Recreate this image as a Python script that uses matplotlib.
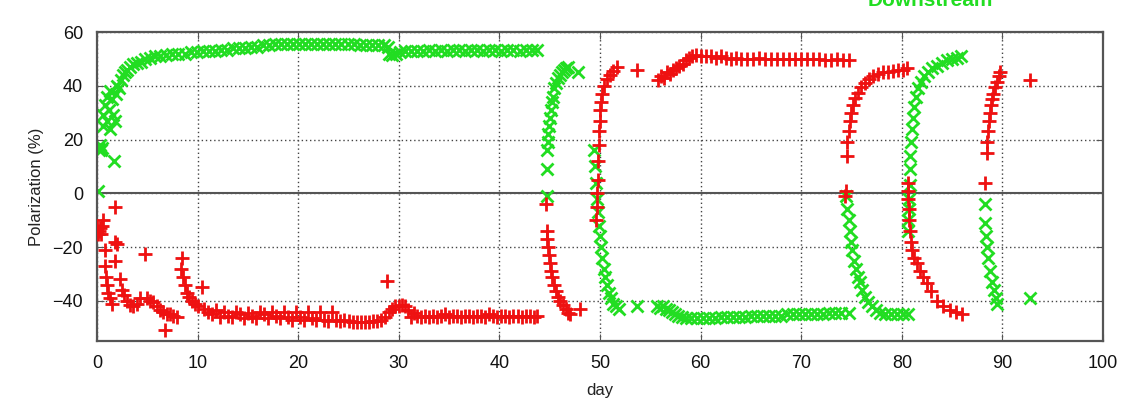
import matplotlib
matplotlib.use("Agg")
import matplotlib.pyplot as plt

plt.rcParams['font.family'] = ['Liberation Sans', 'DejaVu Sans']

#data (day, polarization %)
down_day = [0.05, 0.1, 0.2, 0.3, 0.4, 0.5, 0.6, 0.6, 0.8, 1.0, 1.0, 1.2, 1.3, 1.3, 1.5, 1.6, 1.7, 1.8,
            1.9, 2.0, 2.2, 2.4, 2.6, 2.8, 3.0, 3.3, 3.6, 4.0, 4.4, 4.8, 5.3, 5.8, 6.3, 6.9, 7.5, 8.1,
            8.7, 9.3, 9.9, 10.5, 11.1, 11.7, 12.3, 12.9, 13.5, 14.1, 14.7, 15.3, 15.9, 16.5, 17.1,
            17.7, 18.3, 18.9, 19.5, 20.1, 20.7, 21.3, 21.9, 22.5, 23.1, 23.7, 24.3, 24.9, 25.5, 26.1,
            26.7, 27.3, 27.9, 28.5, 28.9, 29.0, 29.3, 29.7, 30.1, 30.6, 31.2, 31.8, 32.4, 33.0, 33.6,
            34.2, 34.8, 35.4, 36.0, 36.6, 37.2, 37.8, 38.4, 39.0, 39.6, 40.2, 40.8, 41.4, 42.0, 42.6,
            43.2, 43.7,
            44.7, 44.7, 44.75, 44.8, 44.85, 44.9, 45.0, 45.1, 45.2, 45.3, 45.45, 45.6, 45.8, 46.0,
            46.2, 46.4, 46.6, 46.8, 47.8,
            49.4, 49.5, 49.6, 49.7, 49.8, 49.9, 50.0, 50.1, 50.2, 50.35, 50.5, 50.7, 50.9, 51.1, 51.3,
            51.6, 51.9, 53.7,
            55.7, 56.0, 56.3, 56.6, 56.9, 57.2, 57.5, 57.8, 58.1, 58.5, 59.0, 59.6, 60.2, 60.8, 61.4,
            62.0, 62.6, 63.2, 63.8, 64.4, 65.0, 65.6, 66.2, 66.8, 67.4, 68.0, 68.6, 69.2, 69.8, 70.4,
            71.0, 71.6, 72.2, 72.8, 73.4, 74.0, 74.7,
            74.5, 74.6, 74.7, 74.8, 74.9, 75.0, 75.2, 75.4, 75.6, 75.8, 76.0, 76.3, 76.6, 77.0, 77.4,
            77.8, 78.3, 78.9, 79.5, 80.1, 80.6,
            80.6, 80.65, 80.7, 80.7, 80.8, 80.8, 80.8, 80.9, 81.0, 81.1, 81.2, 81.4, 81.6, 81.9, 82.2,
            82.6, 83.0, 83.5, 84.0, 84.5, 85.0, 85.5, 85.9,
            88.3, 88.3, 88.4, 88.5, 88.6, 88.8, 89.0, 89.2, 89.4, 89.5, 92.7]
down_pol = [1, 17, 16, 18, 16, 17, 29, 25, 33, 36, 27, 31, 24, 38, 35, 29, 12, 27,
            37, 40, 39, 42, 44, 45, 46, 47, 48, 48.5, 49, 50, 50.5, 51, 51, 51.5, 52, 52,
            52, 52.5, 52.5, 53, 53, 53, 53.5, 53.5, 54, 54, 54, 54.5, 54.5, 55, 55,
            55.5, 55.5, 55.5, 55.5, 55.5, 55.5, 55.5, 55.5, 55.5, 55.5, 55.5, 55.5, 55.5, 55.5, 55,
            55, 55, 55, 55, 54.5, 52, 51.5, 52, 52.5, 53, 53, 53, 53, 53.5, 53,
            53.5, 53, 53.5, 53.5, 53, 53.5, 53.5, 53, 53.5, 53.5, 53, 53.5, 53.5, 53, 53.5,
            53.5, 53.5,
            -1, 9, 16, 19, 22, 25, 28, 31, 34, 36, 39, 41, 43, 44,
            45, 46, 46.5, 47, 45,
            16, 10, 4, -2, -7, -12, -16, -20, -24, -28, -31, -34, -37, -39, -41,
            -42, -43, -42,
            -42, -42.5, -42, -43, -43.5, -44, -45, -45.5, -46, -46.5, -46.5, -46.5, -46.5, -46.5, -46.5,
            -46, -46, -46, -46, -46, -45.5, -45.5, -45.5, -45.5, -45.5, -45.5, -45, -45, -45, -45,
            -45, -45, -45, -44.5, -44.5, -44.5, -44.5,
            -1, -6, -10, -14, -18, -21, -25, -28, -31, -33, -36, -38.5, -40.5, -42, -43.5,
            -44.5, -45, -45, -45, -45, -45,
            -14, -10, -6, -2, 3, 9, 14, 19, 24, 28, 32, 36, 39, 41.5, 43.5,
            45, 46.5, 47.5, 48.5, 49.5, 50, 50.5, 51,
            -4, -11, -16, -20, -24, -29, -33, -36, -39, -41, -39]

up_day = [0.0, 0.1, 0.2, 0.3, 0.4, 0.5, 0.6, 0.8, 0.8, 0.9, 1.0, 1.1, 1.3, 1.5, 1.8, 1.8, 1.8, 2.0,
          2.3, 2.5, 2.7, 3.0, 3.3, 3.6, 4.0, 4.3, 4.8, 5.0, 5.3, 5.6, 6.0, 6.3, 6.6, 6.8, 7.0, 7.3,
          7.6, 8.0, 8.3, 8.4, 8.5, 8.7, 8.9, 9.1, 9.4, 9.7, 10.0, 10.4, 10.6, 11.0, 11.4, 11.8, 12.2,
          12.6, 13.0, 13.4, 13.8, 14.2, 14.6, 15.0, 15.4, 15.8, 16.2, 16.6, 17.0, 17.4, 17.8, 18.2,
          18.6, 19.0, 19.4, 19.8, 20.2, 20.6, 21.0, 21.4, 21.8, 22.2, 22.6, 23.0, 23.4, 23.8, 24.2,
          24.6, 25.0, 25.4, 25.8, 26.2, 26.6, 27.0, 27.4, 27.8, 28.2, 28.6, 28.8, 29.0, 29.3, 29.6,
          30.0, 30.3, 30.6, 30.9, 31.2, 31.5, 31.8, 32.2, 32.6, 33.0, 33.4, 33.8, 34.2, 34.6, 35.0,
          35.4, 35.8, 36.2, 36.6, 37.0, 37.4, 37.8, 38.2, 38.6, 39.0, 39.4, 39.8, 40.2, 40.6, 41.0,
          41.4, 41.8, 42.2, 42.6, 43.0, 43.4, 43.7,
          44.6, 44.7, 44.7, 44.8, 44.9, 45.0, 45.1, 45.2, 45.4, 45.6, 45.8, 46.0, 46.3, 46.6, 46.8,
          47.0, 48.0,
          49.6, 49.7, 49.7, 49.75, 49.8, 49.85, 49.9, 49.95, 50.0, 50.1, 50.2, 50.4, 50.7, 51.0, 51.3,
          51.7, 53.7,
          55.8, 56.1, 56.4, 56.7, 57.0, 57.3, 57.6, 57.9, 58.2, 58.5, 58.8, 59.1, 59.5, 60.0, 60.5,
          61.0, 61.5, 62.0, 62.5, 63.0, 63.5, 64.0, 64.6, 65.2, 65.8, 66.4, 67.0, 67.6, 68.2, 68.8,
          69.4, 70.0, 70.6, 71.2, 71.8, 72.4, 73.0, 73.6, 74.2, 74.7,
          74.4, 74.5, 74.6, 74.6, 74.7, 74.8, 74.9, 75.1, 75.3, 75.6, 75.9, 76.3, 76.7, 77.1, 77.6,
          78.1, 78.6, 79.1, 79.6, 80.1, 80.5,
          80.6, 80.6, 80.6, 80.7, 80.7, 80.8, 80.9, 81.0, 81.2, 81.5, 81.8, 82.1, 82.5, 82.9, 83.5,
          84.1, 84.8, 85.4, 86.0,
          88.3, 88.5, 88.5, 88.6, 88.7, 88.8, 88.9, 89.0, 89.1, 89.3, 89.5, 89.7, 89.8, 92.7]
up_pol = [-13, -15, -14, -13, -15, -12, -10, -21, -27, -31, -34, -37, -39, -41, -5, -18, -25, -19,
          -32, -36, -38, -40, -41.5, -42, -41, -39, -22.5, -39, -40, -40.5, -42, -43.5, -44, -51, -45, -45,
          -45.5, -46, -28, -24, -31, -34, -37, -38.5, -40, -41, -42, -35, -43, -44, -45, -43.5, -46,
          -44, -45.5, -46, -44, -45, -46.5, -44.5, -45.5, -46.5, -44, -45, -46.5, -44, -45.5, -46.5,
          -44, -46, -47, -44, -46, -47, -44, -46.5, -47, -44, -47, -47.5, -44, -47, -47.5,
          -47, -47.5, -48, -48, -48, -48, -48, -47.5, -47.5, -47, -46, -32.5, -44, -43, -42,
          -42, -41.5, -42, -43.5, -46, -44.5, -45.5, -46, -45.5, -46, -45.5, -46, -45.5, -45, -46,
          -45.5, -45.5, -46, -45.5, -45.5, -46, -45.5, -45.5, -46, -45, -45.5, -46, -45.5, -45.5, -46,
          -45.5, -45.5, -46, -45.5, -45.5, -46, -45.5,
          -4, -14, -17, -20, -23, -26, -29, -31, -34, -36.5, -38.5, -40, -41.5, -43, -44.5,
          -45, -43,
          -10, -5, 0, 5, 12, 18, 23, 27, 31, 34, 37, 40, 42.5, 44, 45.5,
          47, 46,
          42, 43.5, 43, 45, 44.5, 46, 46.5, 47.5, 48, 49.5, 50.5, 51, 51.5, 51, 51,
          51, 50.5, 51, 50.5, 50, 50.5, 50, 50, 50, 50.5, 50, 50, 50, 50, 50,
          50, 50, 50, 50, 50, 49.5, 49.5, 50, 49.5, 49.5,
          -1, 1, 14, 19, 23, 27, 30, 33, 35.5, 37.5, 39.5, 41, 42.5, 43.5, 44.5,
          45, 45, 45.5, 46, 46, 46.5,
          4, 1, -2, -6, -10, -14, -18, -21, -24, -26, -29, -31, -33.5, -36.5, -40,
          -42, -43.5, -44, -45,
          4, 15, 19, 23, 27, 30, 33, 35, 37, 39.5, 41.5, 43.5, 45, 42]

GREEN = '#22dd22'
RED = '#ee1111'

fig = plt.figure(figsize=(11.32, 4.11), dpi=100)
ax = fig.add_axes([0.0857, 0.170, 0.8887, 0.752])

ax.axhline(0, color='#555555', lw=1.5, zorder=1)
ax.plot(up_day, up_pol, linestyle='none', marker='+', ms=9.5, mew=2.0, color=RED, zorder=3)
ax.plot(down_day, down_pol, linestyle='none', marker='x', ms=8, mew=2.0, color=GREEN, zorder=2)

ax.set_xlim(0, 100)
ax.set_ylim(-55, 60)
ax.set_xticks(range(0, 101, 10))
ax.set_yticks(range(-40, 61, 20))
ax.grid(True, linestyle=(0, (1, 2)), color='#444444', lw=1)
ax.set_axisbelow(True)
ax.tick_params(direction='in', top=True, right=True, length=5, color='#555555',
               labelsize=13, labelcolor='#111111')
ax.tick_params(axis='x', pad=10)
ax.tick_params(axis='y', pad=10)
for s in ax.spines.values():
    s.set_color('#555555')
    s.set_linewidth(1.6)

ax.set_xlabel('day', fontsize=12, color='#222222', labelpad=8)
ax.set_ylabel('Polarization (%)', fontsize=12, color='#222222', labelpad=6)

#key is clipped by the top edge in the reference
fig.text(0.877, 0.985, 'Downstream', color=GREEN, fontsize=15, fontweight='bold',
         ha='right', va='baseline')

fig.savefig('out.png', dpi=100)
